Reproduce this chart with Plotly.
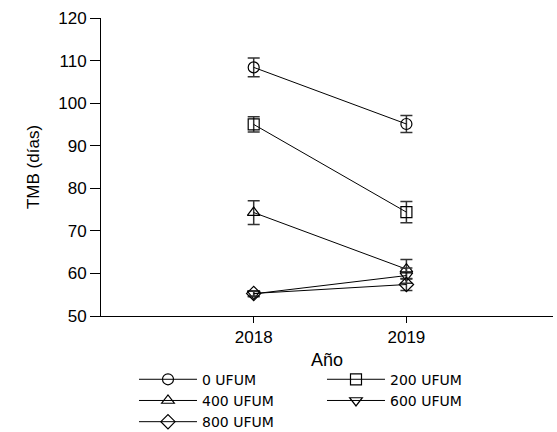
import plotly.graph_objects as go

years = [2018, 2019]
series_names = ["0 UFUM", "200 UFUM", "400 UFUM", "600 UFUM", "800 UFUM"]
tmb_0 = [108.4, 95.1]
tmb_200 = [95.0, 74.4]
tmb_400 = [74.3, 61.0]
tmb_600 = [55.2, 59.5]
tmb_800 = [55.3, 57.4]
err_0 = [2.2, 2.0]
err_200 = [1.8, 2.5]
err_400 = [2.8, 2.3]
err_600 = [0.7, 1.8]
err_800 = [0.6, 1.4]

values = [tmb_0, tmb_200, tmb_400, tmb_600, tmb_800]
errors = [err_0, err_200, err_400, err_600, err_800]
symbols = ["circle-open", "square-open", "triangle-up-open", "triangle-down-open", "diamond-open"]

fig = go.Figure()
for name, y, e, sym in zip(series_names, values, errors, symbols):
    fig.add_trace(go.Scatter(
        x=years, y=y, name=name, mode="lines+markers",
        line=dict(color="black", width=1),
        marker=dict(symbol=sym, size=11, color="black", line=dict(width=1.2, color="black")),
        error_y=dict(type="data", array=e, visible=True, color="#333333", thickness=1.5, width=6),
    ))

font = "Liberation Sans, Arial, sans-serif"
fig.update_layout(
    width=557, height=432,
    margin=dict(l=101, r=4, t=18, b=116, autoexpand=False),
    paper_bgcolor="white", plot_bgcolor="white",
    font=dict(family=font, size=17, color="black"),
    showlegend=True,
    legend=dict(
        orientation="h", x=0.073, xanchor="left", y=-0.16, yanchor="top",
        entrywidth=115, entrywidthmode="pixels",
        font=dict(family="DejaVu Sans, sans-serif", size=14), tracegroupgap=0, itemwidth=58,
        bgcolor="rgba(0,0,0,0)",
    ),
    xaxis=dict(
        range=[2017.0, 2019.96], tickvals=years, ticktext=[str(v) for v in years],
        showgrid=False, zeroline=False, showline=True, linecolor="black", linewidth=1,
        ticks="outside", ticklen=6, tickcolor="black",
        title=dict(text="Año", standoff=6, font=dict(size=18)),
    ),
    yaxis=dict(
        range=[50, 120], tickvals=list(range(50, 121, 10)),
        showgrid=False, zeroline=False, showline=True, linecolor="black", linewidth=1,
        ticks="outside", ticklen=10, tickcolor="black",
        title=dict(text="TMB (días)", standoff=14, font=dict(size=17)),
    ),
)

fig.write_html("out.html")
